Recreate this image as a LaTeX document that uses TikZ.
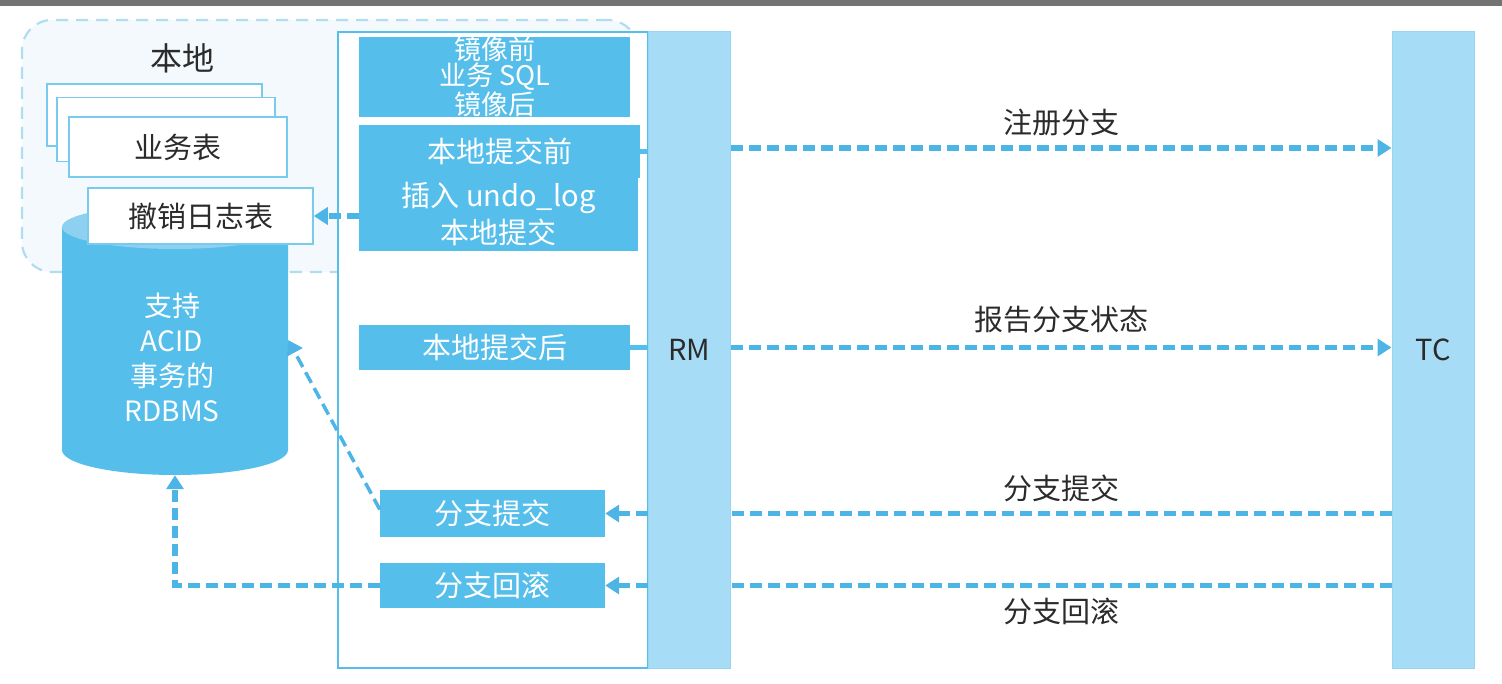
\documentclass[tikz,border=0pt]{standalone}
\usepackage{fontspec}
\setmainfont{Noto Sans CJK SC}
\usetikzlibrary{arrows.meta,positioning,calc}

\definecolor{midblue}{HTML}{56BEEA}
\definecolor{barblue}{HTML}{A6DCF5}
\definecolor{lineblue}{HTML}{4DB5E5}
\definecolor{zoneedge}{HTML}{B2DCEF}
\definecolor{zonefill}{HTML}{F3F9FC}
\definecolor{dbtop}{HTML}{8DD0F0}
\definecolor{ink}{HTML}{2B2B2B}

\begin{document}
\begin{tikzpicture}[
    x=1pt, y=-1pt,
    txt/.style={font=\fontsize{29}{30}\selectfont},
    box/.style={fill=midblue, text=white, inner sep=0pt, align=center, txt},
    sheet/.style={draw=midblue!80, line width=1.5pt, fill=white, inner sep=0pt, txt, text=ink},
    bar/.style={fill=barblue, draw=barblue!80!midblue, line width=1pt, inner sep=0pt, minimum width=82, minimum height=636, txt, text=ink},
    flow/.style={draw=lineblue, line width=5.5pt, dash pattern=on 12pt off 6pt},
    tip/.style={flow, -{Triangle[length=14pt,width=17pt]}},
    stub/.style={draw=midblue, line width=5pt},
    msg/.style={txt, text=ink}
]
\useasboundingbox (0,0) rectangle (1502,684);
\fill[black!55] (0,0) rectangle (1502,6);

% local zone
\node[draw=zoneedge, fill=zonefill, line width=2.2pt, dash pattern=on 12pt off 8pt, rounded corners=30pt,
      minimum width=616, minimum height=252, inner sep=0pt] (zone) at (330,146) {};
\node[txt, font=\fontsize{32}{34}\selectfont, text=ink] (zonelabel) at (182,58) {本地};

% client frame and the two bars
\node[draw=midblue, line width=1.5pt, fill=white, minimum width=310, minimum height=636, inner sep=0pt] (client) at (493,350) {};
\node[bar] (rm) at (689,350) {RM};
\node[bar] (tc) at (1433,350) {TC};

% steps inside the client
\node[box, minimum width=271, minimum height=78, font=\fontsize{27}{24}\selectfont] (mirror) at (494.5,77) {镜像前\\业务 SQL\\镜像后};
\node[box, minimum width=281, minimum height=53] (before) at (499.5,151.5) {本地提交前};
\node[box, minimum width=279, minimum height=73, font=\fontsize{29}{37}\selectfont] (undo) at (498.5,214.5) {插入 undo\_log\\本地提交};
\node[box, minimum width=271, minimum height=45] (after) at (494.5,347.5) {本地提交后};
\node[box, minimum width=225, minimum height=47] (commit) at (492.5,513.5) {分支提交};
\node[box, minimum width=225, minimum height=45] (rollback) at (492.5,585.5) {分支回滚};

% business tables
\node[sheet, minimum width=215, minimum height=62] (sheet3) at (154.5,115) {};
\node[sheet, minimum width=218, minimum height=64] (sheet2) at (166,129.5) {};
\node[sheet, minimum width=218, minimum height=60] (sheet1) at (178,147) {业务表};

% database
\node[inner sep=0pt, minimum width=226, minimum height=270] (db) at (175,340) {};
\fill[midblue] (62,227) -- (62,450) arc[start angle=180, end angle=0, x radius=113, y radius=25] -- (288,227) -- cycle;
\fill[dbtop] (175,227) ellipse[x radius=113, y radius=22];
\node[txt, font=\fontsize{28}{35}\selectfont, text=white, align=center] (dbtext) at (172,357) {支持\\ACID\\事务的\\RDBMS};
\node[sheet, minimum width=225, minimum height=56] (log) at (200.5,216) {撤销日志表};

% messages
\draw[stub] (before.east) -- (before.east -| rm.west);
\path[tip] (rm.east |- 0,148) -- node[msg, above=6pt] {注册分支} (tc.west |- 0,148);
\draw[stub] (after.east) -- (after.east -| rm.west);
\path[tip] (rm.east |- after) -- node[msg, above=8pt] {报告分支状态} (tc.west |- after);
\path[flow] (tc.west |- commit) -- node[msg, above=6pt] {分支提交} (rm.east |- commit);
\path[tip] (rm.west |- commit) -- (commit.east);
\path[flow] (tc.west |- rollback) -- node[msg, below=6pt] {分支回滚} (rm.east |- rollback);
\path[tip] (rm.west |- rollback) -- (rollback.east);
\path[tip] (undo.west |- log) -- (log.east);
\path[tip, line width=3.5pt] ([yshift=4pt]commit.west) -- (db.east);
\path[tip] (rollback.west) -| (db.south);

\end{tikzpicture}
\end{document}
